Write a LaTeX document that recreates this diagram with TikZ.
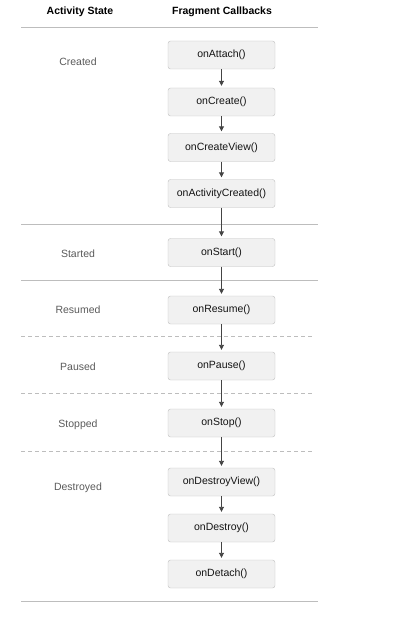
\documentclass[tikz,border=0pt]{standalone}
\usepackage{fontspec}
\setmainfont{Liberation Sans}
\usetikzlibrary{arrows.meta}
\definecolor{boxfill}{HTML}{F1F1F1}
\definecolor{boxline}{HTML}{BEBEBE}
\definecolor{rule}{HTML}{BDBDBD}
\definecolor{statetext}{HTML}{5A5A5A}
\definecolor{arrowcol}{HTML}{444444}
\tikzset{
  callback/.style = {draw = boxline, fill = boxfill, rounded corners = 2.5pt, minimum width = 107pt, minimum height = 28pt, inner sep = 0pt, text = black!92, font = \fontsize{10.5}{12}\selectfont},
  state/.style = {text = statetext, font = \fontsize{10.5}{12}\selectfont},
  header/.style = {font = \fontsize{10.5}{12}\selectfont\bfseries},
  flow/.style = {draw = arrowcol, line width = .9pt, shorten > = 2pt, -{Triangle[length = 5pt, width = 5pt]}},
  rulesolid/.style = {draw = rule, line width = .8pt},
  ruledash/.style = {draw = rule, line width = .8pt, dash pattern = on 4pt off 3pt}
}
\begin{document}
\begin{tikzpicture}[x = 1pt, y = -1pt]
\useasboundingbox (0,0) rectangle (416,623);

\node[header] (hstate) at (80,12) {Activity State};
\node[header] (hcalls) at (222,12) {Fragment Callbacks};

\draw[rulesolid] (21,27) -- (318,27);
\draw[rulesolid] (21,224) -- (318,224);
\draw[rulesolid] (21,280) -- (318,280);
\draw[ruledash] (21,336) -- (314,336);
\draw[ruledash] (21,393) -- (314,393);
\draw[ruledash] (21,451) -- (314,451);
\draw[rulesolid] (21,601) -- (318,601);

\node[state] (created) at (78,62) {Created};
\node[state] (started) at (78,254) {Started};
\node[state] (resumed) at (78,310) {Resumed};
\node[state] (paused) at (78,367) {Paused};
\node[state] (stopped) at (78,425) {Stopped};
\node[state] (destroyed) at (78,488) {Destroyed};

\node[callback] (attach) at (221.5,55) {onAttach()};
\node[callback] (create) at (221.5,102) {onCreate()};
\node[callback] (createview) at (221.5,147.5) {onCreateView()};
\node[callback] (actcreated) at (221.5,193.5) {onActivityCreated()};
\node[callback] (start) at (221.5,252.5) {onStart()};
\node[callback] (resume) at (221.5,310) {onResume()};
\node[callback] (pause) at (221.5,366) {onPause()};
\node[callback] (stop) at (221.5,423) {onStop()};
\node[callback] (destroyview) at (221.5,482) {onDestroyView()};
\node[callback] (destroy) at (221.5,528) {onDestroy()};
\node[callback] (detach) at (221.5,574) {onDetach()};

\draw[flow] (attach) -- (create);
\draw[flow] (create) -- (createview);
\draw[flow] (createview) -- (actcreated);
\draw[flow] (actcreated) -- (start);
\draw[flow] (start) -- (resume);
\draw[flow] (resume) -- (pause);
\draw[flow] (pause) -- (stop);
\draw[flow] (stop) -- (destroyview);
\draw[flow] (destroyview) -- (destroy);
\draw[flow] (destroy) -- (detach);
\end{tikzpicture}
\end{document}
